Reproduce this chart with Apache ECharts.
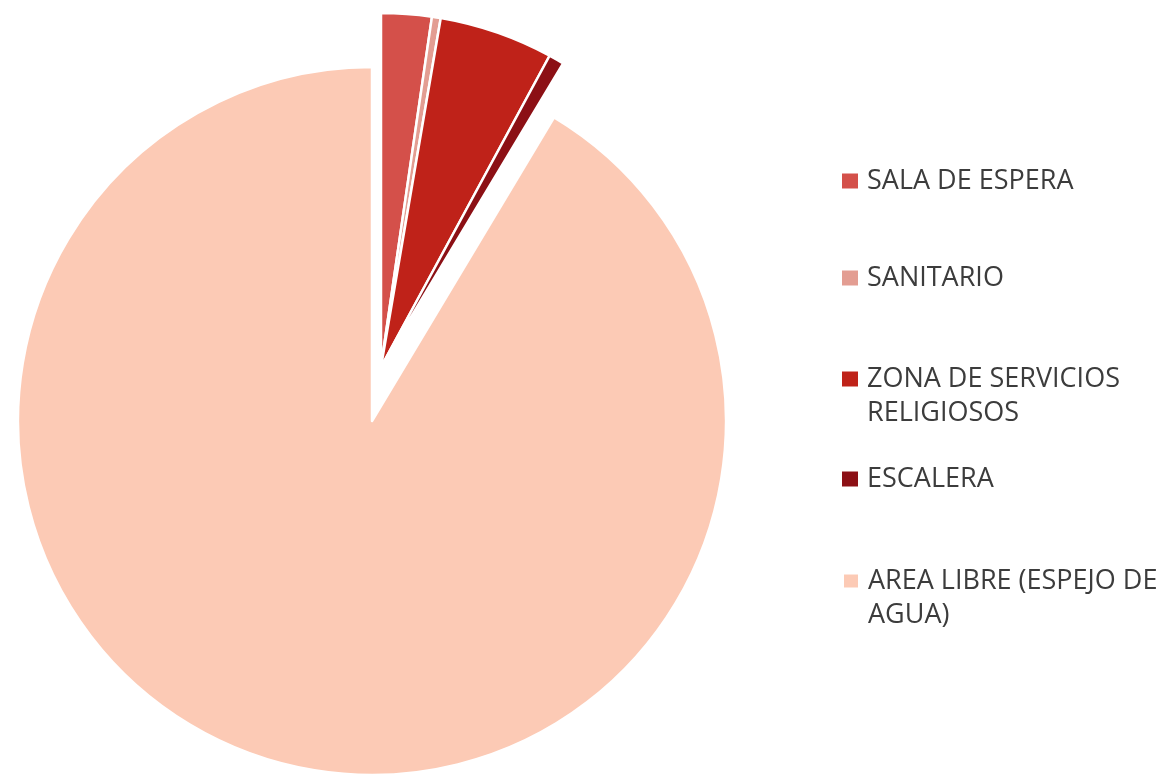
<!DOCTYPE html>
<html>
<head>
<meta charset="utf-8">
<script src="https://cdn.jsdelivr.net/npm/echarts@6/dist/echarts.min.js"></script>
<style>html,body{margin:0;padding:0;background:#fff}#c{width:1169px;height:783px}</style>
</head>
<body>
<div id="c"></div>
<script>
const categories = ['SALA DE ESPERA', 'SANITARIO', 'ZONA DE SERVICIOS RELIGIOSOS', 'ESCALERA', 'AREA LIBRE (ESPEJO DE AGUA)'];
const values = [2.3, 0.4, 5.2, 0.7, 91.4];
const exploded = [true, true, true, true, false];
const colors = ['#d4504a', '#e39d92', '#bf2219', '#8c1015', '#fccab5'];
const legendLabels = ['SALA DE ESPERA', 'SANITARIO', ' \nZONA DE SERVICIOS\nRELIGIOSOS', 'ESCALERA', ' \nAREA LIBRE (ESPEJO DE\nAGUA)'];
const legendTops = [164, 261, 328, 462, 530];

const chart = echarts.init(document.getElementById('c'));
const legends = categories.map((name, i) => ({
  data: [{ name, itemStyle: { color: colors[i] } }],
  orient: 'vertical',
  left: 842,
  top: legendTops[i],
  padding: 0,
  itemWidth: 16,
  itemHeight: 15,
  icon: 'rect',
  selectedMode: false,
  formatter: () => legendLabels[i],
  textStyle: { fontFamily: 'Open Sans', fontSize: 27, color: '#3c3c3c', lineHeight: 34, padding: [0, 0, 0, 4] }
}));
const hidden = { color: 'rgba(0,0,0,0)', borderWidth: 0 };
function seriesData(showExploded) {
  return categories.map((name, i) => ({
    name,
    value: values[i],
    itemStyle: exploded[i] === showExploded ? { color: colors[i] } : hidden
  }));
}
const common = {
  type: 'pie',
  radius: 354,
  startAngle: 90,
  clockwise: true,
  silent: true,
  label: { show: false },
  labelLine: { show: false },
  emphasis: { disabled: true },
  itemStyle: { borderColor: '#ffffff', borderWidth: 2.5 }
};
chart.setOption({
  animation: false,
  color: colors,
  legend: legends,
  series: [
    Object.assign({}, common, { name: 'main', center: [372, 421], data: seriesData(false) }),
    Object.assign({}, common, { name: 'exploded', center: [381, 367], data: seriesData(true) })
  ]
});
</script>
</body>
</html>
